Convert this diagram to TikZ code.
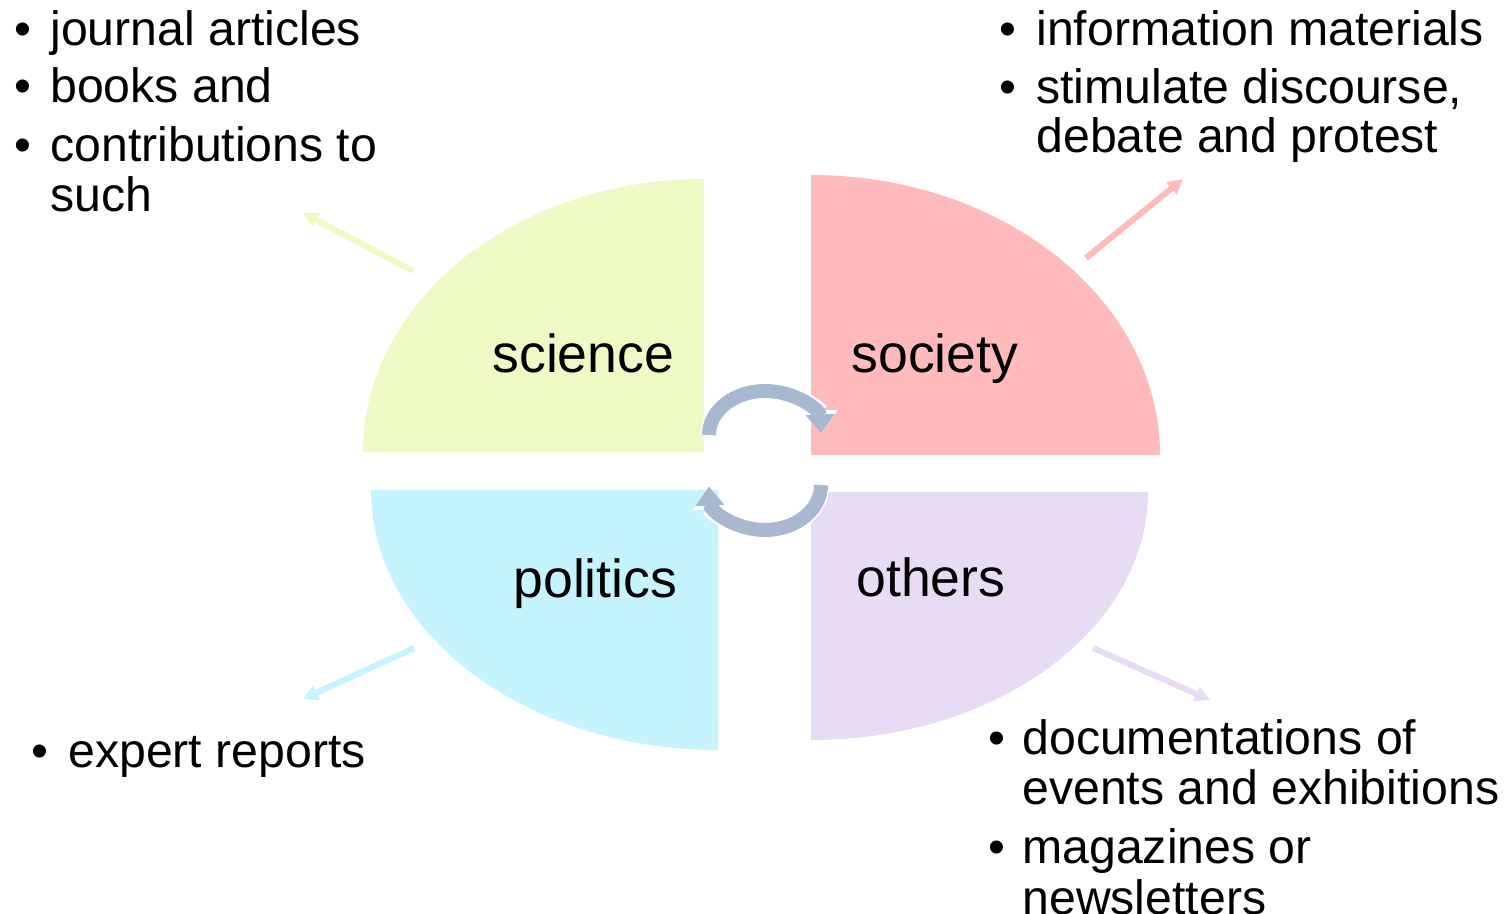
\documentclass[tikz,border=0pt]{standalone}
\usepackage{fontspec}
\setmainfont{Liberation Sans}
\usetikzlibrary{arrows.meta}

\definecolor{scigreen}{RGB}{237,250,198}
\definecolor{socpink}{RGB}{255,187,187}
\definecolor{polcyan}{RGB}{198,244,254}
\definecolor{othlilac}{RGB}{232,220,244}
\definecolor{cyclegray}{RGB}{168,184,208}

\begin{document}
\begin{tikzpicture}[x=0.5pt,y=-0.5pt,
    field/.style={anchor=base west,inner sep=0pt,font=\fontsize{26.8}{30}\selectfont},
    entry/.style={anchor=base west,inner sep=0pt,font=\fontsize{24.1}{25}\selectfont},
    itemdot/.style={anchor=base,inner sep=0pt,font=\fontsize{24.1}{25}\selectfont},
    outarrow/.style={line width=3pt,-{Triangle[width=7.5pt,length=7.5pt]}},
    turn/.style={cyclegray,line width=7pt,-{Triangle[width=14pt,length=9.5pt]},
        preaction={draw=white,line width=8.5pt,-{Triangle[width=17pt,length=11.5pt]}}}]
    \useasboundingbox (0,0) rectangle (1504,914);

    % the four quarters
    \fill[scigreen] (704,452) -- (363,452) arc[start angle=180,end angle=270,x radius=341,y radius=273] -- cycle;
    \fill[socpink] (811,455) -- (811,175) arc[start angle=270,end angle=360,x radius=349,y radius=280] -- cycle;
    \fill[polcyan] (718,490) -- (371,490) arc[start angle=180,end angle=90,x radius=347,y radius=260] -- cycle;
    \fill[othlilac] (811,492) -- (1148,492) arc[start angle=0,end angle=90,x radius=337,y radius=248] -- cycle;

    \node[field] (science) at (492,372) {science};
    \node[field] (society) at (851,372) {society};
    \node[field] (politics) at (513,597) {politics};
    \node[field] (others) at (856,596) {others};

    % exchange between the quarters
    \draw[turn] (709,435) arc[start angle=180,end angle=358,x radius=56,y radius=44];
    \draw[turn] (821,485) arc[start angle=0,end angle=178,x radius=56,y radius=45];

    % outputs
    \coordinate (sciFrom) at (413,271);
    \coordinate (sciTo) at (303,213);
    \coordinate (socFrom) at (1086,258);
    \coordinate (socTo) at (1183,179);
    \coordinate (polFrom) at (414,648);
    \coordinate (polTo) at (303,699);
    \coordinate (othFrom) at (1093,648);
    \coordinate (othTo) at (1210,700);
    \draw[outarrow,scigreen] (sciFrom) -- (sciTo);
    \draw[outarrow,socpink] (socFrom) -- (socTo);
    \draw[outarrow,polcyan] (polFrom) -- (polTo);
    \draw[outarrow,othlilac] (othFrom) -- (othTo);

    % science
    \node[itemdot] (sciDotA) at (23,46) {\textbullet};
    \node[entry] (sciA) at (50,46) {journal articles};
    \node[itemdot] (sciDotB) at (23,103) {\textbullet};
    \node[entry] (sciB) at (50,103) {books and};
    \node[itemdot] (sciDotC) at (23,162) {\textbullet};
    \node[entry] (sciC) at (50,162) {contributions to};
    \node[entry] (sciD) at (50,212) {such};

    % society
    \node[itemdot] (socDotA) at (1008,46) {\textbullet};
    \node[entry] (socA) at (1036,46) {information materials};
    \node[itemdot] (socDotB) at (1008,104) {\textbullet};
    \node[entry] (socB) at (1036,104) {stimulate discourse,};
    \node[entry] (socC) at (1036,153) {debate and protest};

    % politics
    \node[itemdot] (polDotA) at (40,767) {\textbullet};
    \node[entry] (polA) at (68,767) {expert reports};

    % others
    \node[itemdot] (othDotA) at (997,754) {\textbullet};
    \node[entry] (othA) at (1022,754) {documentations of};
    \node[entry] (othB) at (1022,804) {events and exhibitions};
    \node[itemdot] (othDotB) at (997,863) {\textbullet};
    \node[entry] (othC) at (1022,863) {magazines or};
    \node[entry] (othD) at (1022,914) {newsletters};
\end{tikzpicture}
\end{document}
